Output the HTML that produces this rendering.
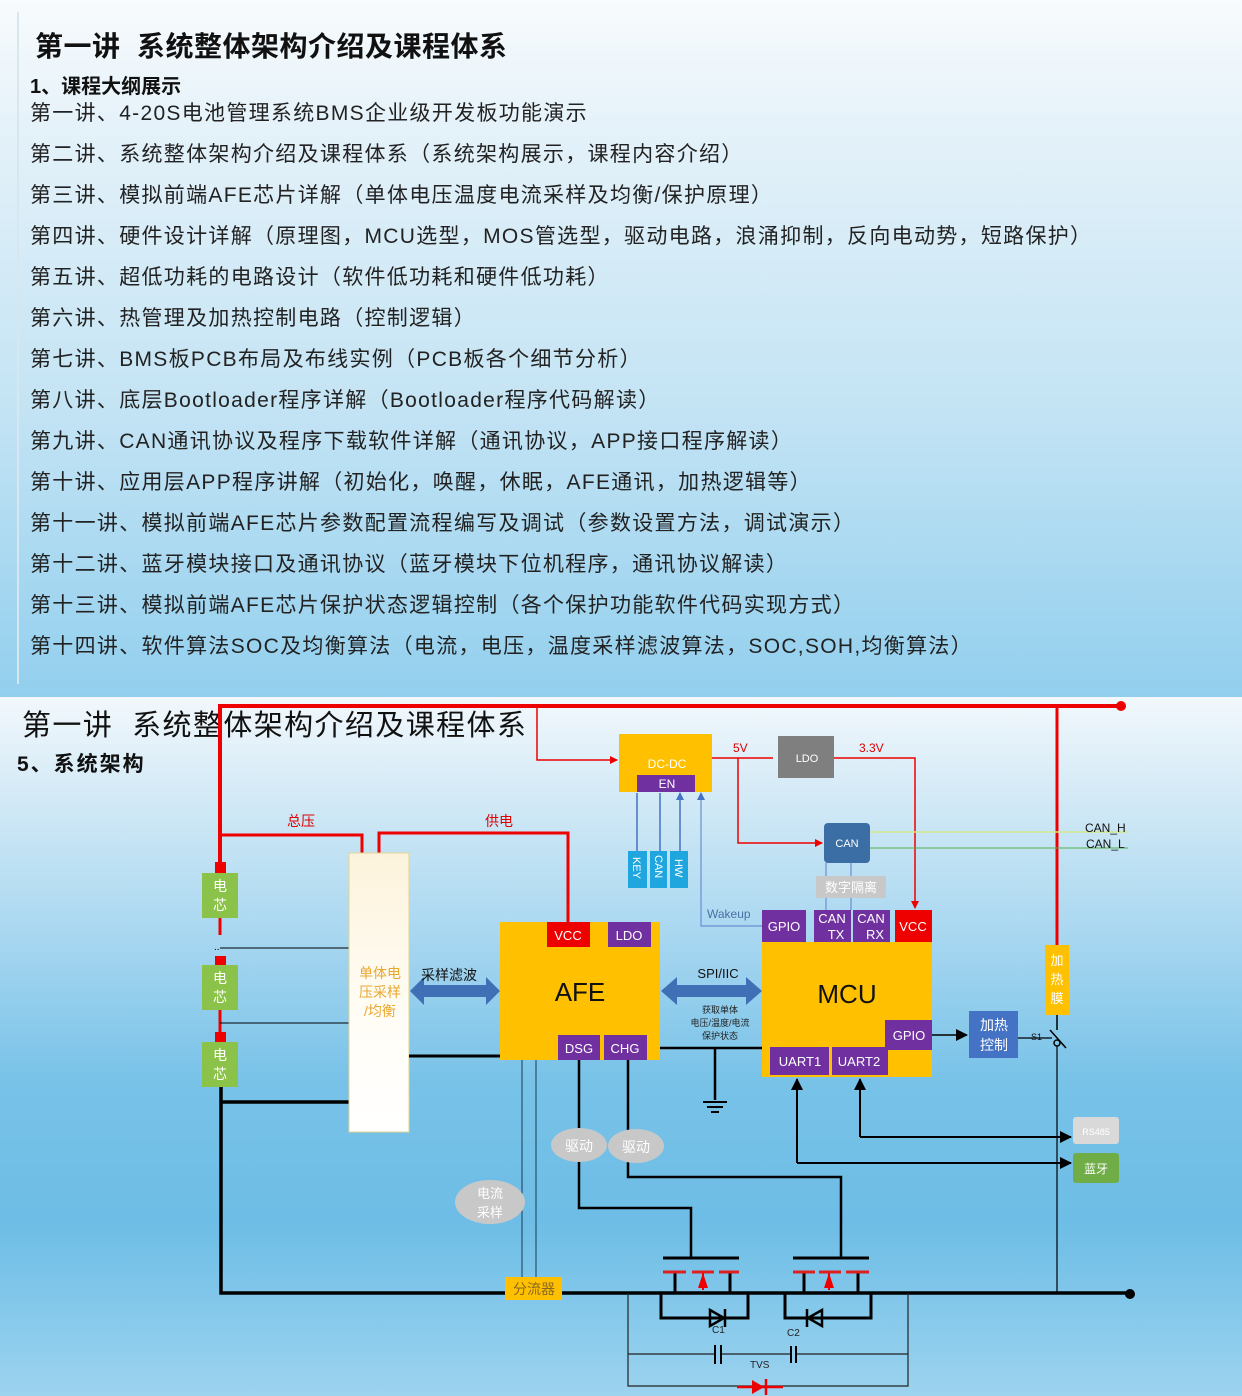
<!DOCTYPE html>
<html><head><meta charset="utf-8">
<style>
body{margin:0;width:1242px;height:1396px;overflow:hidden;font-family:"Liberation Sans","Noto Sans CJK SC",sans-serif;}
#s1{position:absolute;left:0;top:0;width:1242px;height:697px;background:linear-gradient(180deg,#f8fbfd 0%,#e3f1f9 20%,#c2e3f4 60%,#92cfee 100%);}
#s1 .bar{position:absolute;left:17px;top:12px;width:2px;height:672px;background:#d8e6ee;}
#s1 .t{position:absolute;left:35px;top:25px;font-size:28px;font-weight:bold;color:#111;letter-spacing:0.5px}
#s1 .h{position:absolute;left:30px;top:70px;font-size:20px;font-weight:bold;color:#111}
#s1 .l{position:absolute;left:30px;font-size:21px;letter-spacing:1.3px;color:#222;white-space:nowrap}
#s2{position:absolute;left:0;top:697px;width:1242px;height:699px;background:linear-gradient(180deg,#f2f8fc 0%,#d8ecf7 12%,#a6d6f0 35%,#78c2e8 55%,#6dbde6 75%,#9cd3ef 100%);}
svg text{font-family:"Liberation Sans","Noto Sans CJK SC",sans-serif;}
</style></head><body>
<div id="s1"><div class="bar"></div>
<div class="t">第一讲&nbsp; 系统整体架构介绍及课程体系</div>
<div class="h">1、课程大纲展示</div>
<div class="l" style="top:97px">第一讲、4-20S电池管理系统BMS企业级开发板功能演示</div>
<div class="l" style="top:138px">第二讲、系统整体架构介绍及课程体系（系统架构展示，课程内容介绍）</div>
<div class="l" style="top:179px">第三讲、模拟前端AFE芯片详解（单体电压温度电流采样及均衡/保护原理）</div>
<div class="l" style="top:220px">第四讲、硬件设计详解（原理图，MCU选型，MOS管选型，驱动电路，浪涌抑制，反向电动势，短路保护）</div>
<div class="l" style="top:261px">第五讲、超低功耗的电路设计（软件低功耗和硬件低功耗）</div>
<div class="l" style="top:302px">第六讲、热管理及加热控制电路（控制逻辑）</div>
<div class="l" style="top:343px">第七讲、BMS板PCB布局及布线实例（PCB板各个细节分析）</div>
<div class="l" style="top:384px">第八讲、底层Bootloader程序详解（Bootloader程序代码解读）</div>
<div class="l" style="top:425px">第九讲、CAN通讯协议及程序下载软件详解（通讯协议，APP接口程序解读）</div>
<div class="l" style="top:466px">第十讲、应用层APP程序讲解（初始化，唤醒，休眠，AFE通讯，加热逻辑等）</div>
<div class="l" style="top:507px">第十一讲、模拟前端AFE芯片参数配置流程编写及调试（参数设置方法，调试演示）</div>
<div class="l" style="top:548px">第十二讲、蓝牙模块接口及通讯协议（蓝牙模块下位机程序，通讯协议解读）</div>
<div class="l" style="top:589px">第十三讲、模拟前端AFE芯片保护状态逻辑控制（各个保护功能软件代码实现方式）</div>
<div class="l" style="top:630px">第十四讲、软件算法SOC及均衡算法（电流，电压，温度采样滤波算法，SOC,SOH,均衡算法）</div>
</div>
<div id="s2"></div>
<svg style="position:absolute;left:0;top:0" width="1242" height="1396" viewBox="0 0 1242 1396">
<defs>
<marker id="ar" markerWidth="8" markerHeight="8" refX="7" refY="4" orient="auto" markerUnits="userSpaceOnUse"><path d="M0,0 L8,4 L0,8z" fill="#e00"/></marker>
<marker id="ab" markerWidth="8" markerHeight="8" refX="7" refY="4" orient="auto" markerUnits="userSpaceOnUse"><path d="M0,0 L8,4 L0,8z" fill="#4472c4"/></marker>
<marker id="ak" markerWidth="12" markerHeight="12" refX="11" refY="6" orient="auto" markerUnits="userSpaceOnUse"><path d="M0,0 L12,6 L0,12z" fill="#000"/></marker>
<linearGradient id="cream" x1="0" y1="0" x2="0" y2="1"><stop offset="0" stop-color="#fdf3dc"/><stop offset="0.6" stop-color="#fffdf6"/><stop offset="1" stop-color="#fff"/></linearGradient>
</defs>
<text x="22" y="735" font-size="29" letter-spacing="1.4" fill="#111">第一讲&#160; 系统整体架构介绍及课程体系</text>
<text x="17" y="771" font-size="21" letter-spacing="2" font-weight="bold" fill="#111">5、系统架构</text>

<path d="M220,867 V706 H1120" stroke="#e00" stroke-width="4" fill="none"/>
<circle cx="1121" cy="706" r="5" fill="#e00"/>
<path d="M537,706 V760 H617" stroke="#e00" stroke-width="1.5" fill="none" marker-end="url(#ar)"/>
<path d="M1057,706 V945" stroke="#e00" stroke-width="3" fill="none"/>
<path d="M220,835 H362 V853" stroke="#e00" stroke-width="3" fill="none"/>
<path d="M379,853 V833 H568 V922" stroke="#e00" stroke-width="3" fill="none"/>
<text x="287" y="826" font-size="14" fill="#d00">总压</text>
<text x="485" y="826" font-size="14" fill="#d00">供电</text>
<path d="M712,758 H773 M834,758 H915 V908" stroke="#e00" stroke-width="1.5" fill="none" marker-end="url(#ar)"/>
<path d="M738,758 V843 H822" stroke="#e00" stroke-width="1.5" fill="none" marker-end="url(#ar)"/>
<text x="733" y="752" font-size="12" fill="#d00">5V</text>
<text x="859" y="752" font-size="12" fill="#d00">3.3V</text>

<path d="M220,918 V935 M220,1010 V1032" stroke="#e00" stroke-width="3"/>
<text x="214" y="950" font-size="10" fill="#000">..</text>
<rect x="215" y="862" width="11" height="11" fill="#e00"/>
<rect x="215" y="956" width="11" height="9" fill="#e00"/>
<rect x="215" y="1032" width="11" height="10" fill="#e00"/>
<g fill="#8bc34a"><rect x="202" y="873" width="36" height="45"/><rect x="202" y="965" width="36" height="45"/><rect x="202" y="1042" width="36" height="45"/></g>
<g font-size="14" fill="#fff" text-anchor="middle"><text x="220" y="891">电</text><text x="220" y="910">芯</text><text x="220" y="983">电</text><text x="220" y="1002">芯</text><text x="220" y="1060">电</text><text x="220" y="1079">芯</text></g>
<path d="M220,948 H350 M220,1023 H350" stroke="#000" stroke-width="1"/>
<path d="M221,1087 V1293 H505 M221,1102 H350" stroke="#000" stroke-width="3.5" fill="none"/>
<path d="M562,1293 H1128" stroke="#000" stroke-width="3.5"/>
<circle cx="1130" cy="1294" r="5" fill="#000"/>

<rect x="349" y="853" width="60" height="279" fill="url(#cream)" stroke="#e3d590" stroke-width="1"/>
<g font-size="14" fill="#e8a830" text-anchor="middle"><text x="380" y="978">单体电</text><text x="380" y="997">压采样</text><text x="380" y="1016">/均衡</text></g>
<path d="M409,1056 H500" stroke="#000" stroke-width="3"/>
<path d="M410,991 L424,977 V985 H486 V977 L500,991 L486,1005 V997 H424 V1005z" fill="#3f6fb5"/>
<text x="421" y="980" font-size="14" fill="#111">采样滤波</text>

<rect x="500" y="922" width="160" height="138" fill="#ffc000"/>
<rect x="547" y="922" width="43" height="25" fill="#e00"/>
<rect x="608" y="922" width="43" height="25" fill="#7030a0"/>
<rect x="558" y="1035" width="42" height="25" fill="#7030a0"/>
<rect x="604" y="1035" width="43" height="25" fill="#7030a0"/>
<g font-size="13" fill="#fff" text-anchor="middle"><text x="568" y="940">VCC</text><text x="629" y="940">LDO</text><text x="579" y="1053">DSG</text><text x="625" y="1053">CHG</text></g>
<text x="580" y="1001" font-size="26" text-anchor="middle" fill="#111">AFE</text>

<path d="M660,1048 H762 M715,1048 V1100" stroke="#000" stroke-width="2.5" fill="none"/>
<path d="M703,1102 H727 M707,1107 H723 M711,1112 H719" stroke="#000" stroke-width="2"/>
<path d="M661,991 L677,977 V985 H746 V977 L762,991 L746,1005 V997 H677 V1005z" fill="#3f6fb5"/>
<text x="718" y="978" font-size="13" text-anchor="middle" fill="#111">SPI/IIC</text>
<g font-size="9" text-anchor="middle" fill="#222"><text x="720" y="1013">获取单体</text><text x="720" y="1026">电压/温度/电流</text><text x="720" y="1039">保护状态</text></g>

<rect x="762" y="942" width="170" height="135" fill="#ffc000"/>
<rect x="762" y="910" width="44" height="32" fill="#7030a0"/>
<rect x="814" y="910" width="37" height="32" fill="#7030a0"/>
<rect x="853" y="910" width="37" height="32" fill="#7030a0"/>
<rect x="895" y="910" width="37" height="32" fill="#e00"/>
<rect x="885" y="1020" width="47" height="30" fill="#7030a0"/>
<rect x="770" y="1047" width="59" height="28" fill="#7030a0"/>
<rect x="832" y="1047" width="56" height="28" fill="#7030a0"/>
<g font-size="13" fill="#fff" text-anchor="middle"><text x="784" y="931">GPIO</text><text x="832" y="923">CAN</text><text x="836" y="939">TX</text><text x="871" y="923">CAN</text><text x="875" y="939">RX</text><text x="913" y="931">VCC</text><text x="909" y="1040">GPIO</text><text x="800" y="1066">UART1</text><text x="859" y="1066">UART2</text></g>
<text x="847" y="1003" font-size="26" text-anchor="middle" fill="#111">MCU</text>

<rect x="619" y="734" width="93" height="58" fill="#ffc000"/>
<rect x="637" y="775" width="58" height="17" fill="#7030a0"/>
<text x="667" y="768" font-size="12" fill="#fff" text-anchor="middle">DC-DC</text>
<text x="667" y="788" font-size="12" fill="#fff" text-anchor="middle">EN</text>
<rect x="778" y="736" width="56" height="42" fill="#7f7f7f"/>
<text x="807" y="762" font-size="11" fill="#fff" text-anchor="middle">LDO</text>
<path d="M826,863 V910 M851,863 V910" stroke="#6a8fcf" stroke-width="1.2"/>
<rect x="824" y="823" width="46" height="40" rx="4" fill="#3a6ea5"/>
<text x="847" y="847" font-size="11" fill="#fff" text-anchor="middle">CAN</text>
<path d="M870,832 H1128" stroke="#d4e88a" stroke-width="1.5"/>
<path d="M870,848 H1128" stroke="#55b04a" stroke-width="1"/>
<text x="1085" y="832" font-size="12" fill="#111">CAN_H</text>
<text x="1086" y="848" font-size="12" fill="#111">CAN_L</text>
<rect x="816" y="876" width="70" height="22" fill="#c8c8c8"/>
<text x="851" y="892" font-size="13" fill="#fff" text-anchor="middle">数字隔离</text>

<path d="M637,851 V793 M660,851 V793 M680,851 V793" stroke="#4472c4" stroke-width="1.5" marker-end="url(#ab)"/>
<path d="M762,926 H701 V793" stroke="#6a8fcf" stroke-width="1.2" fill="none" marker-end="url(#ab)"/>
<text x="707" y="918" font-size="12" fill="#4a6fa5">Wakeup</text>
<g fill="#1fa6df"><rect x="628" y="851" width="19" height="37"/><rect x="650" y="851" width="17" height="37"/><rect x="670" y="851" width="18" height="37"/></g>
<g font-size="11" fill="#fff"><text transform="translate(633,857) rotate(90)">KEY</text><text transform="translate(655,855) rotate(90)">CAN</text><text transform="translate(675,859) rotate(90)">HW</text></g>

<rect x="1045" y="945" width="24" height="70" fill="#ffc000"/>
<g font-size="13" fill="#fff" text-anchor="middle"><text x="1057" y="965">加</text><text x="1057" y="984">热</text><text x="1057" y="1003">膜</text></g>
<path d="M1057,1015 V1030" stroke="#000" stroke-width="1.5"/>
<path d="M932,1035 H967" stroke="#000" stroke-width="1.5" marker-end="url(#ak)"/>
<rect x="969" y="1011" width="49" height="47" fill="#4472c4"/>
<g font-size="14" fill="#fff" text-anchor="middle"><text x="994" y="1030">加热</text><text x="994" y="1050">控制</text></g>
<path d="M1018,1038 H1052" stroke="#000" stroke-width="1.2"/>
<text x="1031" y="1040" font-size="9" fill="#111">S1</text>
<path d="M1050,1030 L1066,1048" stroke="#000" stroke-width="1.5"/>
<circle cx="1057" cy="1043" r="3" fill="none" stroke="#000" stroke-width="1.5"/>
<path d="M1057,1046 V1293" stroke="#000" stroke-width="1.2"/>

<path d="M860,1137 V1079" stroke="#000" stroke-width="2" marker-end="url(#ak)"/>
<path d="M860,1137 H1071" stroke="#000" stroke-width="2" marker-end="url(#ak)"/>
<path d="M797,1163 V1079" stroke="#000" stroke-width="2" marker-end="url(#ak)"/>
<path d="M797,1163 H1071" stroke="#000" stroke-width="2" marker-end="url(#ak)"/>
<rect x="1073" y="1117" width="46" height="27" rx="3" fill="#d9d9d9"/>
<text x="1096" y="1135" font-size="9" fill="#fff" text-anchor="middle">RS485</text>
<rect x="1073" y="1153" width="46" height="30" rx="3" fill="#70ad47"/>
<text x="1096" y="1173" font-size="12" fill="#fff" text-anchor="middle">蓝牙</text>

<path d="M522,1060 V1280 M536,1060 V1280" stroke="#1a3a55" stroke-width="1"/>
<path d="M579,1060 V1208 H691 V1258" stroke="#000" stroke-width="2.5" fill="none"/>
<path d="M628,1060 V1177 H841 V1258" stroke="#000" stroke-width="2.5" fill="none"/>
<ellipse cx="579" cy="1145" rx="28" ry="17" fill="#c8c8c8"/>
<ellipse cx="636" cy="1146" rx="28" ry="17" fill="#c8c8c8"/>
<text x="579" y="1151" font-size="14" fill="#fff" text-anchor="middle">驱动</text>
<text x="636" y="1152" font-size="14" fill="#fff" text-anchor="middle">驱动</text>
<ellipse cx="490" cy="1202" rx="35" ry="22" fill="#c8c8c8"/>
<text x="490" y="1198" font-size="13" fill="#fff" text-anchor="middle">电流</text>
<text x="490" y="1217" font-size="13" fill="#fff" text-anchor="middle">采样</text>
<rect x="505" y="1277" width="57" height="23" fill="#ffc000"/>
<text x="534" y="1294" font-size="14" fill="#8a6a20" text-anchor="middle">分流器</text>

<g stroke="#000" stroke-width="3" fill="none">
<path d="M663,1258 H739 M793,1258 H869"/>
<path d="M675,1272 V1293 M730,1272 V1293 M804,1272 V1293 M858,1272 V1293"/>
<path d="M661,1293 V1318 H748 V1293 M785,1293 V1318 H871 V1293"/>
</g>
<g stroke="#e02020" stroke-width="3"><path d="M663,1272 H686 M692,1272 H714 M719,1272 H739 M793,1272 H815 M819,1272 H841 M846,1272 H869"/></g>
<path d="M703,1273 L698,1288 H708z M829,1273 L824,1288 H834z" fill="#e00"/>
<path d="M703,1273 V1290 M829,1273 V1290" stroke="#e00" stroke-width="2"/>
<path d="M710,1310 L724,1318 L710,1326z M822,1310 L808,1318 L822,1326z" fill="none" stroke="#000" stroke-width="2.5"/>
<path d="M725,1309 V1327 M807,1309 V1327" stroke="#000" stroke-width="2.5"/>
<g stroke="#222" stroke-width="1.2" fill="none"><path d="M628,1293 V1386 H908 V1293 M628,1354 H714 M722,1354 H790 M797,1354 H908"/></g>
<path d="M715,1345 V1364 M721,1345 V1364 M791,1346 V1363 M796,1346 V1363" stroke="#000" stroke-width="2"/>
<text x="712" y="1333" font-size="10" fill="#222">C1</text>
<text x="787" y="1336" font-size="10" fill="#222">C2</text>
<text x="750" y="1368" font-size="10" fill="#222">TVS</text>
<path d="M737,1387 H783" stroke="#e00" stroke-width="2.5"/>
<path d="M752,1380 L764,1387 L752,1394z" fill="#e00"/>
<path d="M766,1379 V1395" stroke="#e00" stroke-width="2.5"/>
</svg>
</body></html>
